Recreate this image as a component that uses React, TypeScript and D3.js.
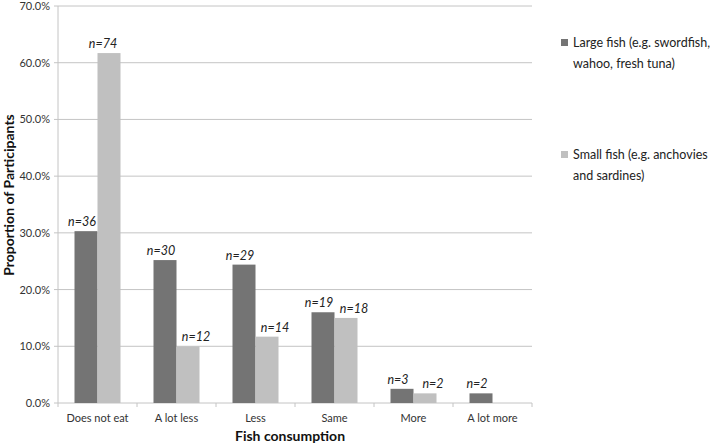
import * as d3 from 'd3';
import React, { useEffect, useRef } from 'react';

const categories = ['Does not eat', 'A lot less', 'Less', 'Same', 'More', 'A lot more'];
const seriesNames = [
  ['Large fish (e.g. swordfish,', 'wahoo, fresh tuna)'],
  ['Small fish (e.g. anchovies', 'and sardines)'],
];
const largeFish = [30.3, 25.2, 24.4, 16.0, 2.5, 1.7];
const smallFish = [61.7, 10.0, 11.7, 15.0, 1.7, 0];
const largeN = ['n=36', 'n=30', 'n=29', 'n=19', 'n=3', 'n=2'];
const smallN = ['n=74', 'n=12', 'n=14', 'n=18', 'n=2', ''];
const yTicks = [0, 10, 20, 30, 40, 50, 60, 70];
const colors = ['#747474', '#c0c0c0'];

const FONT = 'Lato, "Open Sans", sans-serif';

const App: React.FC = () => {
  const ref = useRef<SVGSVGElement | null>(null);

  useEffect(() => {
    if (!ref.current) return;
    const svg = d3.select(ref.current);
    svg.selectAll('*').remove();

    const left = 58;
    const right = 532;
    const top = 6;
    const bottom = 403;

    const x = d3.scaleBand<string>().domain(categories).range([left, right]);
    const bw = 23;
    const y = d3.scaleLinear().domain([0, 70]).range([bottom, top]);

    // gridlines
    svg
      .append('g')
      .selectAll('line')
      .data(yTicks.slice(1))
      .enter()
      .append('line')
      .attr('x1', left)
      .attr('x2', right)
      .attr('y1', (d) => y(d))
      .attr('y2', (d) => y(d))
      .attr('stroke', '#c4c4c4')
      .attr('stroke-width', 1);

    // y axis
    svg
      .append('line')
      .attr('x1', left)
      .attr('x2', left)
      .attr('y1', top)
      .attr('y2', bottom)
      .attr('stroke', '#c4c4c4');
    svg
      .append('g')
      .selectAll('line')
      .data(yTicks)
      .enter()
      .append('line')
      .attr('x1', left - 4)
      .attr('x2', left)
      .attr('y1', (d) => y(d))
      .attr('y2', (d) => y(d))
      .attr('stroke', '#c4c4c4');
    svg
      .append('g')
      .selectAll('text')
      .data(yTicks)
      .enter()
      .append('text')
      .attr('x', left - 8)
      .attr('y', (d) => y(d) + 4)
      .attr('text-anchor', 'end')
      .attr('font-family', FONT)
      .attr('font-size', 11)
      .attr('fill', '#333')
      .text((d) => d.toFixed(1) + '%');

    // x axis
    svg
      .append('line')
      .attr('x1', left)
      .attr('x2', right)
      .attr('y1', bottom)
      .attr('y2', bottom)
      .attr('stroke', '#c4c4c4');
    svg
      .append('g')
      .selectAll('line')
      .data(d3.range(categories.length + 1))
      .enter()
      .append('line')
      .attr('x1', (i) => left + i * x.step())
      .attr('x2', (i) => left + i * x.step())
      .attr('y1', bottom)
      .attr('y2', bottom + 4)
      .attr('stroke', '#c4c4c4');
    svg
      .append('g')
      .selectAll('text')
      .data(categories)
      .enter()
      .append('text')
      .attr('x', (d) => (x(d) as number) + x.bandwidth() / 2)
      .attr('y', 422)
      .attr('text-anchor', 'middle')
      .attr('font-family', FONT)
      .attr('font-size', 11)
      .attr('fill', '#333')
      .text((d) => d);

    // bars + n labels
    [largeFish, smallFish].forEach((vals, s) => {
      const labels = s === 0 ? largeN : smallN;
      const g = svg.append('g');
      vals.forEach((v, i) => {
        const cx = (x(categories[i]) as number) + x.bandwidth() / 2;
        const bx = cx - bw + s * bw;
        if (v > 0) {
          g.append('rect')
            .attr('x', bx)
            .attr('y', y(v))
            .attr('width', bw)
            .attr('height', bottom - y(v))
            .attr('fill', colors[s]);
        }
        if (labels[i]) {
          // labels sit a little off-centre, as placed in the original
          const dx = s === 0 ? -4 : v > 50 ? -6 : 8;
          g.append('text')
            .attr('x', bx + bw / 2 + dx)
            .attr('y', y(v) - 5)
            .attr('text-anchor', 'middle')
            .attr('font-family', FONT)
            .attr('font-size', 12.5)
            .attr('font-style', 'italic')
            .attr('fill', '#222')
            .text(labels[i]);
        }
      });
    });

    // axis titles
    svg
      .append('text')
      .attr('transform', `translate(14, 195) rotate(-90)`)
      .attr('text-anchor', 'middle')
      .attr('font-family', FONT)
      .attr('font-size', 14)
      .attr('font-weight', 'bold')
      .attr('fill', '#111')
      .text('Proportion of Participants');
    svg
      .append('text')
      .attr('x', 290)
      .attr('y', 441)
      .attr('text-anchor', 'middle')
      .attr('font-family', FONT)
      .attr('font-size', 14)
      .attr('font-weight', 'bold')
      .attr('fill', '#111')
      .text('Fish consumption');

    // legend
    const legendY = [43, 155];
    seriesNames.forEach((lines, s) => {
      svg
        .append('rect')
        .attr('x', 561)
        .attr('y', legendY[s] - 4)
        .attr('width', 7)
        .attr('height', 7)
        .attr('fill', colors[s]);
      lines.forEach((ln, j) => {
        svg
          .append('text')
          .attr('x', 573)
          .attr('y', legendY[s] + 4 + j * 21)
          .attr('font-family', FONT)
          .attr('font-size', 12.5)
          .attr('fill', '#222')
          .text(ln);
      });
    });
  }, []);

  return (
    <svg
      ref={ref}
      width={710}
      height={448}
      style={{ display: 'block', position: 'absolute', left: 0, top: 0, background: '#fff' }}
    />
  );
};

export default App;
